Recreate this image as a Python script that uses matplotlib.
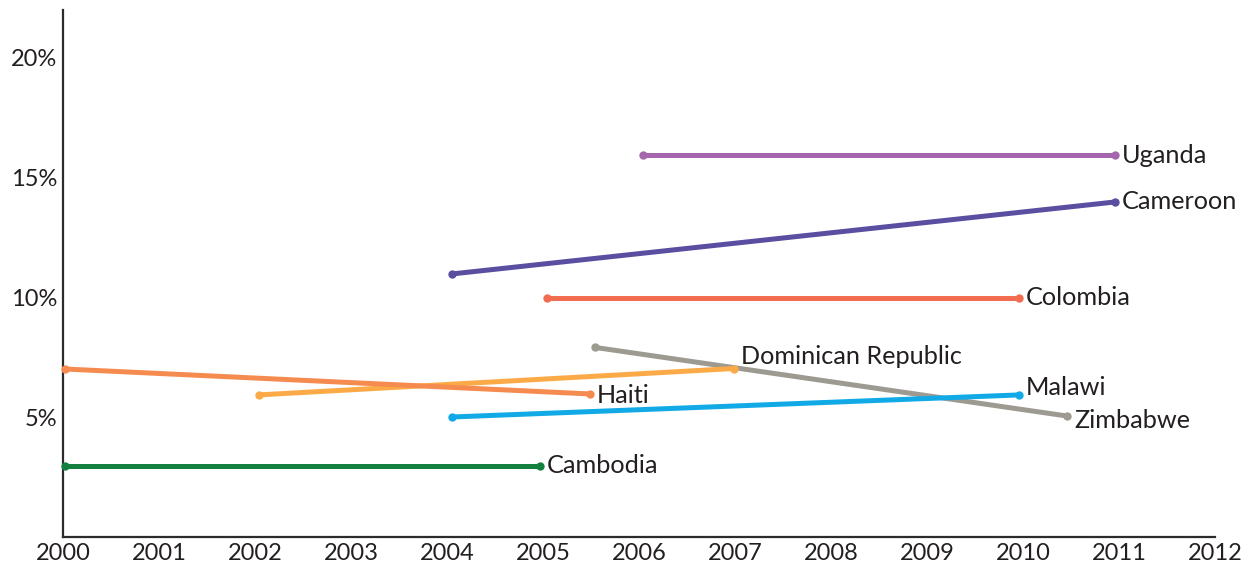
import matplotlib
matplotlib.use("Agg")
import matplotlib.pyplot as plt

countries = ["Uganda", "Cameroon", "Colombia", "Zimbabwe", "Dominican Republic",
             "Haiti", "Malawi", "Cambodia"]
start_year = [2006.04, 2004.05, 2005.04, 2005.54, 2002.04, 2000.02, 2004.05, 2000.02]
end_year = [2010.96, 2010.96, 2009.96, 2010.46, 2006.99, 2005.49, 2009.96, 2004.97]
start_val = [15.9, 10.96, 9.96, 7.9, 5.92, 7.0, 5.0, 2.96]
end_val = [15.9, 13.96, 9.96, 5.04, 7.02, 5.96, 5.92, 2.96]
colors = ["#a566ad", "#5a4ea1", "#f26c4f", "#9d9a92", "#fbaa47",
          "#f68b4f", "#12aae6", "#13803f"]
label_offsets = [(5, 0), (5, 0), (5, 0), (5, -3), (5, 8.5), (5, -1), (5, 5), (5, 0)]

x_ticks = list(range(2000, 2013))
y_ticks = [5, 10, 15, 20]
y_tick_labels = ["5%", "10%", "15%", "20%"]

plt.rcParams["font.family"] = ["Lato", "DejaVu Sans"]

fig = plt.figure(figsize=(12.55, 5.64), dpi=100)
ax = fig.add_axes([63 / 1255, 27 / 564, (1215 - 63) / 1255, (537 - 10) / 564])

text_color = "#231f20"
for name, x0, x1, y0, y1, c, off in zip(countries, start_year, end_year,
                                         start_val, end_val, colors, label_offsets):
    ax.plot([x0, x1], [y0, y1], color=c, lw=3.6, solid_capstyle="butt",
            marker="o", markersize=6, markeredgewidth=0, zorder=3, clip_on=False)
    ax.annotate(name, (x1, y1), xytext=off, textcoords="offset points",
                ha="left", va="center", fontsize=18.2, color=text_color, zorder=4)

ax.set_xlim(2000, 2012)
ax.set_ylim(0, (537 - 10) / 24)
ax.set_xticks(x_ticks)
ax.set_xticklabels([str(y) for y in x_ticks])
ax.set_yticks(y_ticks)
ax.set_yticklabels(y_tick_labels)
ax.tick_params(length=0, labelsize=17, labelcolor=text_color, pad=4)
for s in ["top", "right"]:
    ax.spines[s].set_visible(False)
for s in ["left", "bottom"]:
    ax.spines[s].set_color("#2b2b2b")
    ax.spines[s].set_linewidth(1.6)

fig.savefig("out.png", dpi=100)
